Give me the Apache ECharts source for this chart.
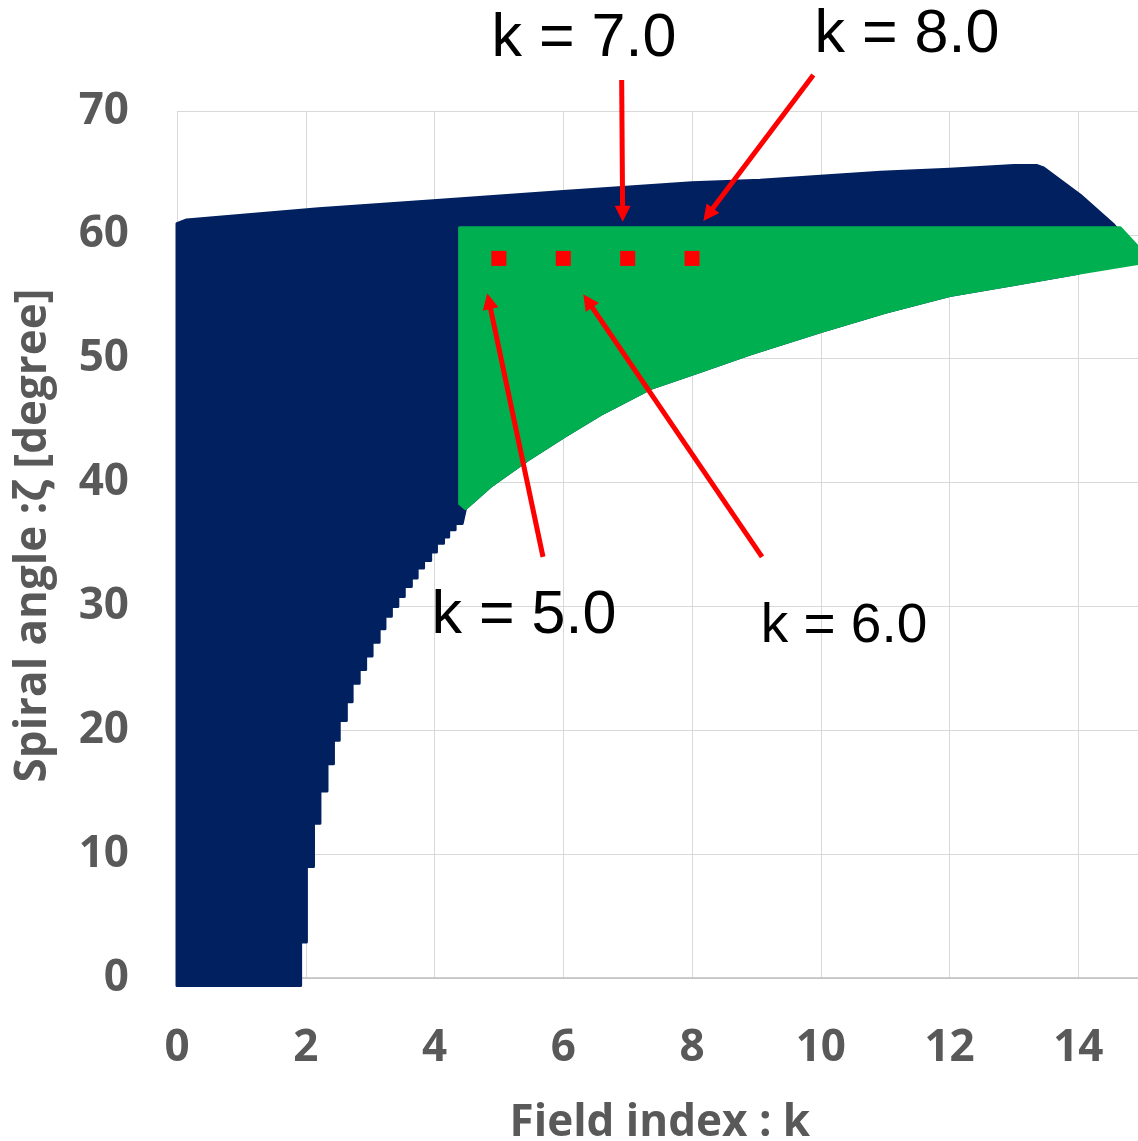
<!DOCTYPE html>
<html>
<head>
<meta charset="utf-8">
<script src="https://cdn.jsdelivr.net/npm/echarts/dist/echarts.min.js"></script>
<style>
html,body{margin:0;padding:0;background:#ffffff;}
#chart{width:1138px;height:1141px;}
</style>
</head>
<body>
<div id="chart"></div>
<script>
// ---- data (k = field index, z = spiral angle in degrees) ----
// upper edge of the dark (navy) region, left to right
const navyTopK = [0.0, 0.15, 2.2, 4.09, 6.0, 8.0, 9.06, 10.93, 12.0, 13.0, 13.35, 13.46, 14.03, 14.55, 14.8];
const navyTopZ = [60.9, 61.2, 62.1, 62.8, 63.5, 64.2, 64.4, 65.05, 65.3, 65.6, 65.6, 65.4, 63.2, 60.8, 59.3];
// staircase lower edge of the navy region: column edge k and the lowest angle of that column
const stairK = [1.92, 2.01, 2.12, 2.22, 2.33, 2.43, 2.52, 2.63, 2.72, 2.83, 2.93, 3.03, 3.14, 3.23, 3.33, 3.43, 3.53, 3.64, 3.73, 3.83, 3.94, 4.03, 4.14, 4.22, 4.32, 4.43];
const stairZ = [-0.6, 2.9, 9.0, 12.5, 15.1, 17.3, 19.2, 20.8, 22.3, 23.8, 24.9, 26.0, 27.1, 28.2, 29.2, 30.0, 30.8, 31.6, 32.3, 33.1, 33.7, 34.4, 35.1, 35.6, 36.2, 36.7];
// lower edge of the green region (also the white boundary), left to right
const lowerK = [4.48, 4.87, 5.44, 6.01, 6.58, 7.36, 8.03, 8.91, 10.0, 11.0, 12.0, 13.0, 14.0, 14.93, 15.0];
const lowerZ = [37.9, 39.7, 41.8, 43.7, 45.5, 47.6, 48.8, 50.4, 52.2, 53.75, 55.1, 56.0, 56.9, 57.7, 57.8];
// left / top / right corners of the green region
const greenEdgeK = [4.39, 4.39, 14.65, 15.0];
const greenEdgeZ = [38.3, 60.58, 60.58, 58.6];
// red square markers
const pointK = [5.0, 6.0, 7.0, 8.0];
const pointZ = [58.1, 58.1, 58.1, 58.1];
// annotation arrows: tail and tip in data units
const arrowFromK = [6.907, 9.884, 5.685, 9.087];
const arrowFromZ = [72.5, 72.9, 34.0, 34.0];
const arrowToK = [6.923, 8.175, 4.82, 6.311];
const arrowToZ = [61.06, 61.12, 55.28, 55.2];
const annotationTexts = ['k = 7.0', 'k = 8.0', 'k = 5.0', 'k = 6.0'];

const GRAY = '#595959';
const NAVY = '#002060';
const GREEN = '#00B050';
const RED = '#FF0000';
const TICK_FONT = {fontFamily: 'Open Sans', fontWeight: 'bold', fontSize: 44, color: GRAY};
const NOTE_FONT = 'Liberation Sans';

function navyOutline() {
  const pts = [];
  for (let i = 0; i < navyTopK.length; i++) pts.push([navyTopK[i], navyTopZ[i]]);
  for (let i = lowerK.length - 1; i >= 0; i--) {
    if (lowerK[i] <= 14.0) pts.push([lowerK[i], lowerZ[i]]);
  }
  for (let i = stairK.length - 1; i >= 0; i--) {
    if (i < stairK.length - 1) pts.push([stairK[i], stairZ[i + 1]]);
    pts.push([stairK[i], stairZ[i]]);
  }
  pts.push([0.0, stairZ[0]]);
  return pts;
}
function greenOutline() {
  const pts = [];
  for (let i = 0; i < greenEdgeK.length; i++) pts.push([greenEdgeK[i], greenEdgeZ[i]]);
  for (let i = lowerK.length - 1; i >= 0; i--) pts.push([lowerK[i], lowerZ[i]]);
  return pts;
}
function polygonSeries(outline, color, z) {
  return {
    type: 'custom', silent: true, z: z, clip: false,
    data: [[0, 0]],
    renderItem: function (params, api) {
      return {
        type: 'polygon',
        shape: {points: outline.map(function (p) { return api.coord(p); })},
        style: {fill: color, stroke: color, lineWidth: 3, lineJoin: 'round'}
      };
    }
  };
}
function note(text, x, y, size) {
  return {type: 'text', x: x, y: y, z: 10,
    style: {text: text, fontFamily: NOTE_FONT, fontSize: size, fontWeight: 'normal', fill: '#000000', align: 'center', verticalAlign: 'middle'}};
}

const chart = echarts.init(document.getElementById('chart'), null, {renderer: 'canvas'});
const option = {
  animation: false,
  backgroundColor: '#ffffff',
  grid: {left: 177, top: 111, width: 965.7, height: 867, containLabel: false, outerBoundsMode: 'none'},
  xAxis: {
    type: 'value', min: 0, max: 15, interval: 2,
    name: 'Field index : k', nameLocation: 'middle', nameGap: 123,
    nameTextStyle: TICK_FONT,
    axisLine: {show: true, lineStyle: {color: '#BFBFBF', width: 1.5}},
    axisTick: {show: false},
    axisLabel: Object.assign({margin: 48, showMaxLabel: false}, TICK_FONT),
    splitLine: {show: true, lineStyle: {color: '#D9D9D9', width: 1}}
  },
  yAxis: {
    type: 'value', min: 0, max: 70, interval: 10,
    name: 'Spiral angle :ζ [degree]', nameLocation: 'middle', nameGap: 122,
    nameTextStyle: Object.assign({padding: [0, 0, 0, 18]}, TICK_FONT),
    axisLine: {show: false},
    axisTick: {show: false},
    axisLabel: Object.assign({margin: 48}, TICK_FONT),
    splitLine: {show: true, lineStyle: {color: '#D9D9D9', width: 1}}
  },
  series: [
    polygonSeries(navyOutline(), NAVY, 2),
    polygonSeries(greenOutline(), GREEN, 3),
    {
      type: 'scatter', z: 4, silent: true,
      symbol: 'rect', symbolSize: 15,
      itemStyle: {color: RED, opacity: 1},
      data: pointK.map(function (k, i) { return [k, pointZ[i]]; })
    },
    {
      type: 'custom', z: 5, silent: true, clip: false,
      encode: {x: [0, 2], y: [1, 3]},
      data: arrowFromK.map(function (k, i) { return [k, arrowFromZ[i], arrowToK[i], arrowToZ[i]]; }),
      renderItem: function (params, api) {
        const p0 = api.coord([api.value(0), api.value(1)]);
        const p1 = api.coord([api.value(2), api.value(3)]);
        const dx = p1[0] - p0[0], dy = p1[1] - p0[1];
        const len = Math.sqrt(dx * dx + dy * dy);
        const ux = dx / len, uy = dy / len;
        const head = 16, half = 8;
        const bx = p1[0] - ux * head, by = p1[1] - uy * head;
        return {
          type: 'group',
          children: [
            {type: 'line', shape: {x1: p0[0], y1: p0[1], x2: bx + ux * 2, y2: by + uy * 2},
             style: {stroke: RED, lineWidth: 5}},
            {type: 'polygon', shape: {points: [[p1[0], p1[1]], [bx - uy * half, by + ux * half], [bx + uy * half, by - ux * half]]},
             style: {fill: RED}}
          ]
        };
      }
    }
  ],
  graphic: [
    note(annotationTexts[0], 584, 39, 61),
    note(annotationTexts[1], 907, 35, 61),
    note(annotationTexts[2], 524, 616, 61),
    note(annotationTexts[3], 844, 627, 55)
  ]
};
chart.setOption(option);
</script>
</body>
</html>
